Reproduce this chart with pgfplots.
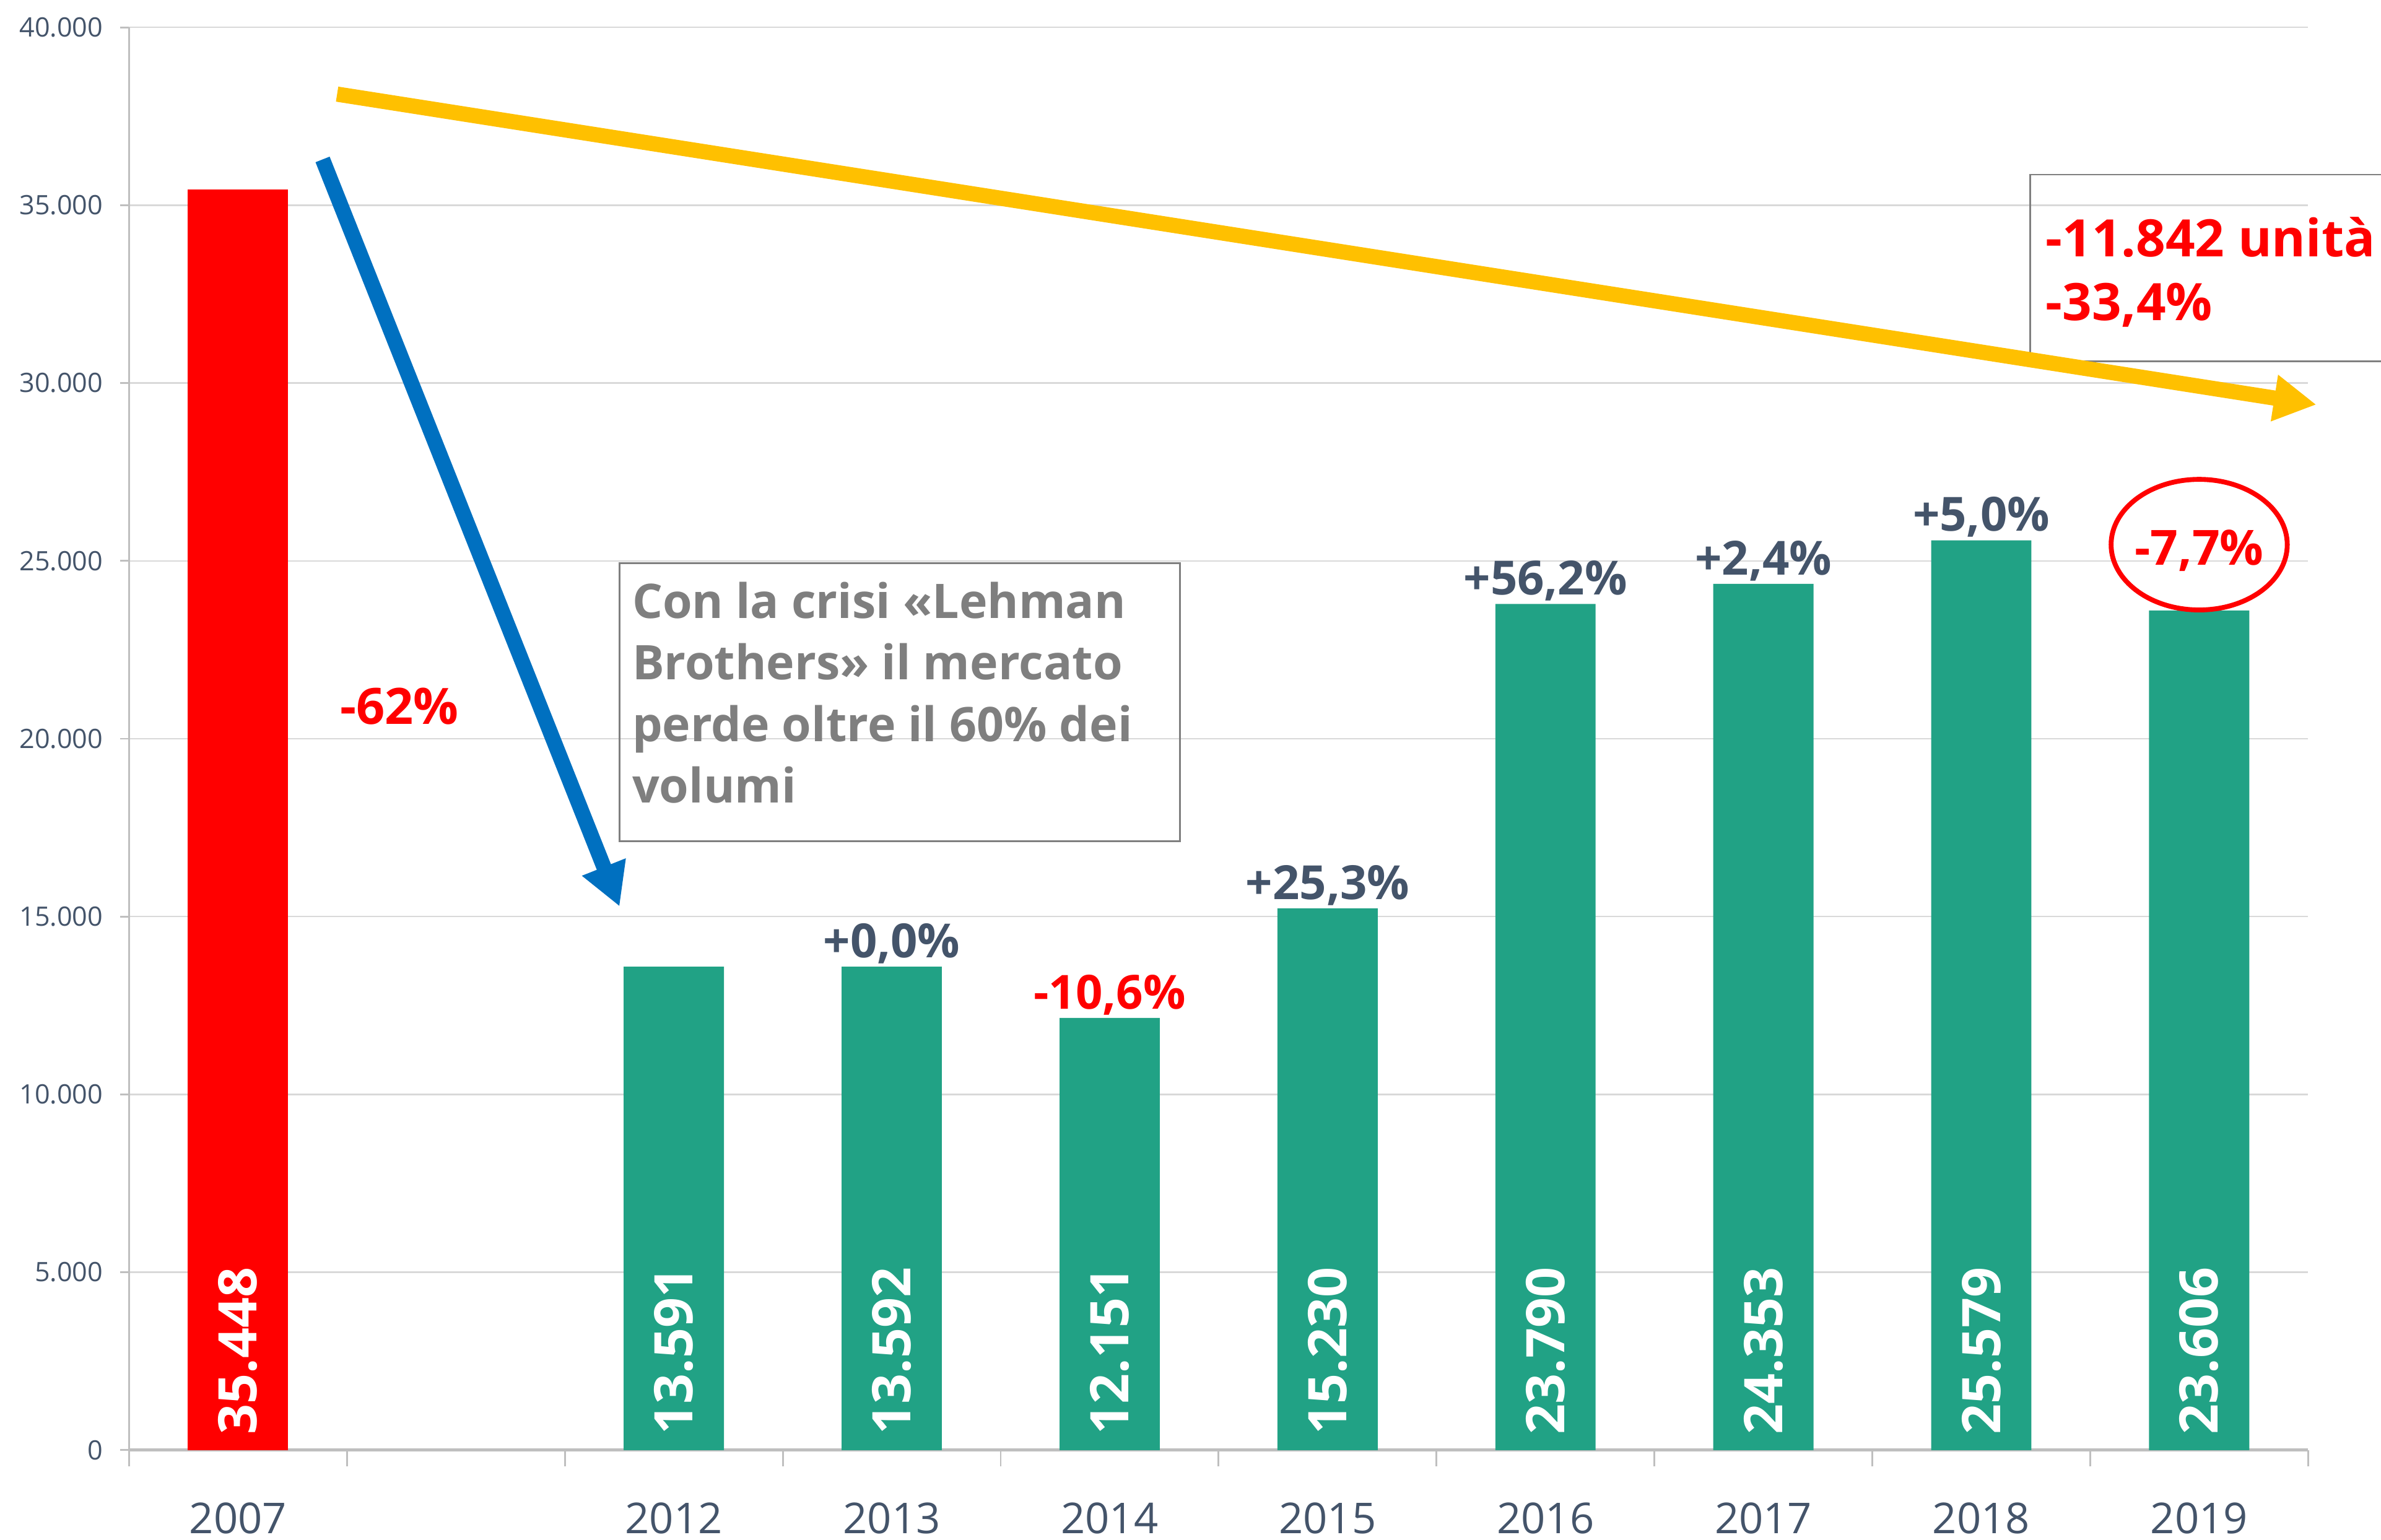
\documentclass[border=0pt]{standalone}
\usepackage{pgfplots}
\pgfplotsset{compat=1.18}
\usepackage{fontspec}
\setmainfont{Open Sans}
\usetikzlibrary{arrows.meta}
\definecolor{barred}{HTML}{FF0000}
\definecolor{bargreen}{HTML}{21A285}
\definecolor{slate}{HTML}{44546A}
\definecolor{arrowyellow}{HTML}{FFC000}
\definecolor{arrowblue}{HTML}{0070C0}
\definecolor{boxgray}{HTML}{7F7F7F}
\definecolor{gridgray}{HTML}{D9D9D9}
\definecolor{axisgray}{HTML}{BFBFBF}
\begin{document}
\begin{tikzpicture}
\begin{axis}[
  at={(0,0)}, anchor=south west,
  scale only axis, width=717.5pt, height=468.5pt,
  xmin=-0.5, xmax=9.5, ymin=0, ymax=40000,
  clip=false,
  axis x line=bottom, axis y line=left,
  every inner x axis line/.append style={-},
  every outer x axis line/.append style={-},
  every inner y axis line/.append style={-},
  every outer y axis line/.append style={-},
  x axis line style={draw=axisgray, line width=1pt},
  y axis line style={draw=axisgray, line width=0.6pt},
  xtick={-0.5,0.5,...,9.5},
  x tick label as interval,
  xticklabels={2007,,2012,2013,2014,2015,2016,2017,2018,2019},
  tick align=outside,
  major tick length=5.4pt,
  xtick style={draw=axisgray, line width=0.6pt},
  ytick={0,5000,...,40000},
  ytick style={draw=axisgray, line width=0.6pt, /pgfplots/major tick length=3pt},
  scaled y ticks=false,
  ymajorgrids, grid style={draw=gridgray, line width=0.5pt},
  /pgf/number format/1000 sep={.},
  /pgf/number format/assume math mode=true,
  yticklabel style={font=\fontsize{8.8}{10}\selectfont, text=slate, inner sep=0pt, xshift=-3pt},
  xticklabel style={font=\fontsize{14}{16}\selectfont, text=slate, anchor=base, inner sep=0pt, yshift=-22pt},
]
\addplot[ybar, bar width=33pt, fill=barred, draw=none] coordinates {(0,35448)};
\addplot[ybar, bar width=33pt, fill=bargreen, draw=none] coordinates {(2,13591) (3,13592) (4,12151) (5,15230) (6,23790) (7,24353) (8,25579) (9,23606)};
% values inside the bars
\addplot[draw=none, nodes near coords, point meta=explicit symbolic,
  every node near coord/.append style={yshift=5pt, rotate=90, anchor=west, inner sep=0pt, text=white, font=\bfseries\fontsize{17.5}{17.5}\selectfont}]
  coordinates {(0,0)[35.448] (2,0)[13.591] (3,0)[13.592] (4,0)[12.151] (5,0)[15.230] (6,0)[23.790] (7,0)[24.353] (8,0)[25.579] (9,0)[23.606]};
% yearly changes
\addplot[draw=none, nodes near coords, point meta=explicit symbolic,
  every node near coord/.append style={anchor=base, inner sep=0pt, yshift=3pt, text=slate, font=\bfseries\fontsize{15.5}{16}\selectfont}]
  coordinates {(3,13592)[+0,0\%] (5,15230)[+25,3\%] (6,23790)[+56,2\%] (7,24353)[+2,4\%] (8,25579)[+5,0\%]};
\addplot[draw=none, nodes near coords, point meta=explicit symbolic,
  every node near coord/.append style={anchor=base, inner sep=0pt, yshift=3pt, text=red, font=\bfseries\fontsize{15.5}{16}\selectfont}]
  coordinates {(4,12151)[-10,6\%]};
\addplot[draw=none, nodes near coords, point meta=explicit symbolic,
  every node near coord/.append style={anchor=base, inner sep=0pt, yshift=15pt, text=red, font=\bfseries\fontsize{16}{16}\selectfont}]
  coordinates {(9,23606)[-7,7\%]};
% annotations
\draw[red, line width=1.6pt] (axis cs:9,25456) ellipse [x radius=29pt, y radius=21.5pt];
\node[text=red, font=\bfseries\fontsize{16.5}{17}\selectfont] at (axis cs:0.74,20918) {-62\%};
\draw[boxgray, line width=0.6pt] (axis cs:1.751,17119) rectangle (axis cs:4.322,24931);
\node[anchor=north west, inner sep=0pt, xshift=4pt, yshift=-6pt, text=boxgray, align=left,
  font=\bfseries\fontsize{15.7}{20.25}\selectfont] at (axis cs:1.751,24931)
  {Con la crisi «Lehman\\Brothers» il mercato\\perde oltre il 60\% dei\\volumi};
\draw[boxgray, line width=0.6pt] (axis cs:8.225,30608) rectangle (axis cs:10.8,35859);
\node[anchor=base west, inner sep=0pt, text=red, font=\bfseries\fontsize{17}{17}\selectfont] at (axis cs:8.294,33554) {-11.842 unità};
\node[anchor=base west, inner sep=0pt, text=red, font=\bfseries\fontsize{17}{17}\selectfont] at (axis cs:8.294,31761) {-33,4\%};
\draw[arrowyellow, line width=5pt, -{Triangle[width=14.5pt, length=14pt]}] (axis cs:0.4547,38122) -- (axis cs:9.538,29392);
\draw[arrowblue, line width=5pt, -{Triangle[width=14.5pt, length=14pt]}] (axis cs:0.388,36286) -- (axis cs:1.751,15283);
\end{axis}
\pgfresetboundingbox
\useasboundingbox (-42.5pt,-29.5pt) rectangle (741.5pt,477.5pt);
\end{tikzpicture}
\end{document}
